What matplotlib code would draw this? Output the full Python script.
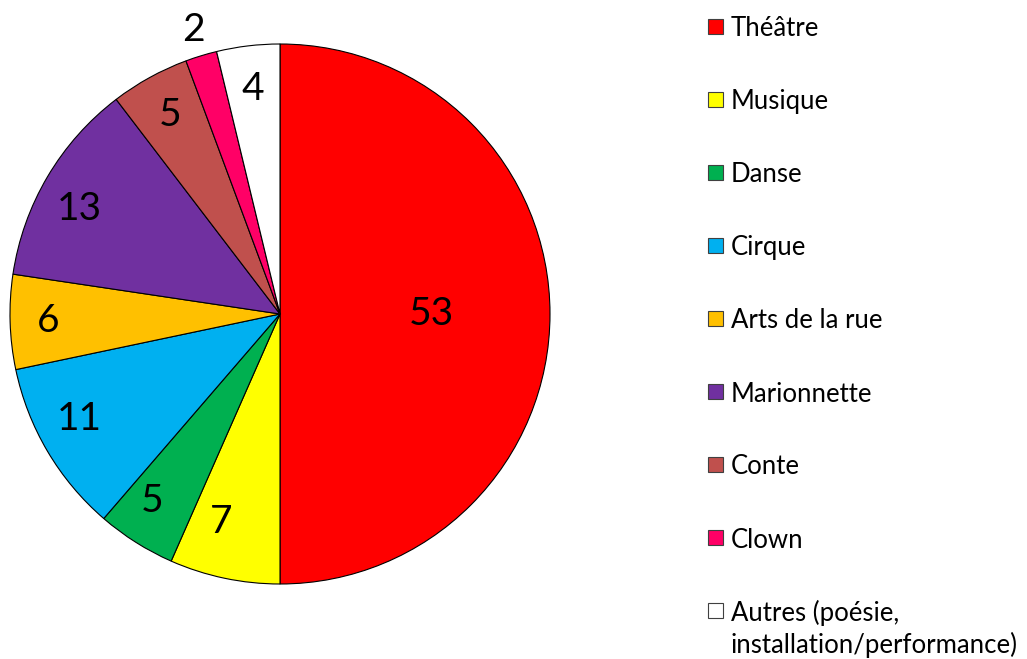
import matplotlib
matplotlib.use("Agg")
import matplotlib.pyplot as plt
from matplotlib.patches import Rectangle
import numpy as np

categories = ["Théâtre", "Musique", "Danse", "Cirque", "Arts de la rue",
              "Marionnette", "Conte", "Clown",
              "Autres (poésie,\ninstallation/performance)"]
values = [53, 7, 5, 11, 6, 13, 5, 2, 4]
colors = ["#FF0000", "#FFFF00", "#00B050", "#00B0F0", "#FFC000",
          "#7030A0", "#C0504D", "#FF0066", "#FFFFFF"]
label_dist = [0.56, 0.80, 0.84, 0.84, 0.86, 0.84, 0.84, 1.10, 0.84]
label_shift = [0, -4, -2, -3, 0, 3, 0, 0, 0]   # degrees along the arc

FONT = "Lato"
W, H = 1027, 659
fig = plt.figure(figsize=(W / 100, H / 100), dpi=100)
cx, cy, R = 280, 314, 270
ax = fig.add_axes([(cx - R) / W, (H - cy - R) / H, 2 * R / W, 2 * R / H])
wedges, _ = ax.pie(values, colors=colors, startangle=90, counterclock=False,
                   radius=1.0,
                   wedgeprops=dict(edgecolor="black", linewidth=0.8))
ax.set_xlim(-1, 1)
ax.set_ylim(-1, 1)
ax.set_aspect("equal")
ax.axis("off")

for w, v, d, s in zip(wedges, values, label_dist, label_shift):
    ang = np.deg2rad((w.theta1 + w.theta2) / 2 + s)
    ax.text(d * np.cos(ang), d * np.sin(ang), str(v), ha="center", va="center",
            fontsize=28, family=FONT, color="black", clip_on=False)

# legend
x_sq, sq = 708, 15
y0, dy = 26, 73
for i, (c, lab) in enumerate(zip(colors, categories)):
    yc = y0 + i * dy
    fig.patches.append(Rectangle(((x_sq) / W, (H - yc - sq / 2) / H), sq / W, sq / H,
                                 transform=fig.transFigure, facecolor=c,
                                 edgecolor="#404040", linewidth=0.8))
    lines = lab.split("\n")
    for j, ln in enumerate(lines):
        fig.text(731 / W, (H - yc - 3 - 32 * j) / H, ln, ha="left", va="center",
                 fontsize=18.5, family=FONT)

fig.savefig("out.png", dpi=100)
